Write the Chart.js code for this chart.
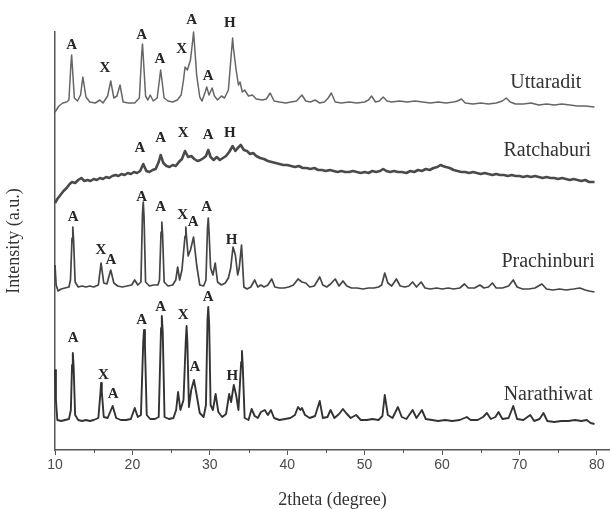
<!DOCTYPE html>
<html>
<head>
<meta charset="utf-8">
<script src="https://cdn.jsdelivr.net/npm/chart.js@4.4.1/dist/chart.umd.min.js"></script>
<style>
  html, body { margin: 0; padding: 0; background: #ffffff; }
  canvas { display: block; }
</style>
</head>
<body>
<canvas id="xrd" width="610" height="509"></canvas>
<script>
// XRD patterns of four clay samples, stacked vertically (intensity in a.u., offset per sample)
const sampleNames = ['Uttaradit', 'Ratchaburi', 'Prachinburi', 'Narathiwat'];

// [2theta (degree), intensity]
const uttaradit = [
  [10.0,338],[10.5,344],[11.0,347],[11.5,348],[11.8,350],[12.05,385],[12.15,395],[12.25,383],[12.5,352],[12.9,349],
  [13.3,355],[13.6,373],[14.0,353],[14.5,348],[15.2,347],[15.8,350],[16.2,347],[16.8,354],
  [17.2,369],[17.6,352],[18.0,354],[18.4,365],[18.8,348],[19.5,347],[20.3,347],[20.9,352],
  [21.2,396],[21.3,406],[21.4,394],[21.7,354],[22.0,350],[22.3,355],[22.7,349],[23.2,352],[23.65,380],[24.1,352],
  [24.6,349],[25.2,348],[25.8,350],[26.3,355],[26.6,370],[26.8,383],[27.1,380],[27.5,390],
  [27.8,410],[27.9,418],[28.0,408],[28.3,375],[28.7,353],[29.0,349],[29.4,358],[29.6,363],[29.9,355],[30.3,362],
  [30.6,354],[31.0,350],[31.5,354],[31.9,352],[32.4,360],[32.85,403],[32.95,412],[33.05,402],[33.4,380],[33.7,365],
  [33.9,368],[34.2,358],[34.5,360],[35.0,354],[35.5,355],[36.0,351],[36.8,350],[37.3,351],
  [37.8,357],[38.3,349],[39.0,348],[39.8,347],[40.5,348],[41.2,349],[41.9,355],[42.4,349],
  [43.0,348],[43.6,350],[44.2,347],[44.8,348],[45.3,352],[45.7,357],[46.2,348],[47.0,347],
  [48.0,348],[49.0,347],[50.0,348],[50.5,350],[50.9,354],[51.4,348],[51.9,349],[52.4,353],
  [52.9,349],[53.5,348],[54.5,349],[55.5,348],[56.5,349],[57.5,348],[58.5,347],[59.5,348],
  [60.5,347],[61.5,348],[62.0,349],[62.5,351],[63.0,347],[64.0,346],[65.0,347],[66.0,346],
  [67.0,347],[67.8,349],[68.3,352],[68.8,348],[69.5,346],[70.5,346],[71.5,347],[72.5,345],
  [73.5,346],[74.5,345],[75.5,346],[76.5,345],[77.5,344],[78.5,344],[79.7,343]
];

const ratchaburi = [
  [10.0,247],[10.3,251],[10.7,255],[11.1,259],[11.5,262],[11.9,266],[12.2,268],[12.6,267],
  [13.0,270],[13.4,272],[13.8,269],[14.2,270],[14.6,269],[15.0,271],[15.4,270],[15.8,272],
  [16.2,271],[16.6,273],[17.0,272],[17.4,274],[17.8,275],[18.2,274],[18.6,276],[19.0,275],
  [19.4,277],[19.8,276],[20.2,278],[20.6,277],[21.0,279],[21.4,286],[21.8,279],[22.2,278],
  [22.6,280],[23.0,281],[23.4,288],[23.65,295],[24.0,287],[24.4,284],[24.8,283],[25.2,285],
  [25.6,284],[26.0,288],[26.4,291],[26.8,299],[27.2,293],[27.6,294],[28.0,291],[28.4,289],
  [28.8,290],[29.2,292],[29.5,294],[29.8,300],[30.1,293],[30.5,290],[30.9,293],[31.3,290],
  [31.7,292],[32.1,294],[32.5,298],[32.95,304],[33.3,299],[33.6,302],[34.0,305],[34.4,300],
  [34.8,299],[35.2,296],[35.6,297],[36.0,294],[36.5,292],[37.0,291],[37.5,289],[38.0,288],
  [38.5,287],[39.0,286],[39.5,285],[40.0,285],[40.5,284],[41.0,283],[41.5,284],[42.0,282],
  [42.5,282],[43.0,281],[43.5,282],[44.0,280],[44.5,280],[45.0,279],[45.5,280],[46.0,279],
  [46.5,278],[47.0,279],[47.5,278],[48.0,278],[48.5,279],[49.0,278],[49.5,277],[50.0,278],
  [50.5,277],[51.0,279],[51.5,278],[52.0,279],[52.4,281],[52.8,279],[53.3,278],[53.8,279],
  [54.3,278],[54.8,278],[55.4,277],[55.9,279],[56.4,278],[56.9,280],[57.4,279],[57.9,281],
  [58.4,280],[58.9,282],[59.4,283],[59.8,285],[60.1,284],[60.5,283],[61.0,282],[61.5,280],
  [62.0,279],[62.5,278],[63.0,278],[63.5,277],[64.0,278],[64.5,277],[65.0,276],[65.5,277],
  [66.0,276],[66.5,275],[67.0,276],[67.5,275],[68.0,275],[68.5,274],[69.0,275],[69.5,274],
  [70.0,274],[70.5,273],[71.0,274],[71.5,273],[72.0,274],[72.5,273],[73.0,272],[73.5,273],
  [74.0,272],[74.5,272],[75.0,271],[75.5,272],[76.0,271],[76.5,270],[77.0,271],[77.5,270],
  [78.0,269],[78.5,270],[79.0,268],[79.7,268]
];

const prachinburi = [
  [10.0,185],[10.15,165],[10.4,159],[10.8,161],[11.3,162],[11.8,163],[12.0,170],[12.2,212],[12.3,223],[12.4,210],
  [12.6,168],[13.0,163],[13.5,164],[14.0,163],[14.5,164],[15.0,163],[15.6,165],[15.95,187],
  [16.3,167],[16.7,166],[17.2,180],[17.6,167],[18.1,164],[18.7,163],[19.3,164],[19.9,165],
  [20.3,170],[20.7,165],[21.1,168],[21.3,236],[21.4,248],[21.5,234],[21.7,168],[22.2,164],[22.7,165],[23.3,165],
  [23.5,170],[23.7,218],[23.8,228],[23.9,215],[24.1,168],[24.6,164],[25.2,165],[25.6,170],[25.85,183],[26.1,170],
  [26.4,180],[26.8,214],[26.9,223],[27.0,212],[27.2,194],[27.5,200],[27.9,213],[28.3,185],[28.7,165],[29.2,164],
  [29.5,170],[29.7,222],[29.8,232],[29.9,218],[30.1,182],[30.4,175],[30.7,187],[31.0,168],[31.5,165],[32.0,167],
  [32.4,172],[32.7,182],[33.0,203],[33.3,195],[33.6,175],[33.8,182],[34.1,205],[34.4,163],
  [34.8,161],[35.3,163],[35.8,170],[36.2,163],[36.6,165],[37.0,163],[37.5,165],[38.0,171],
  [38.4,163],[39.0,162],[39.6,162],[40.2,163],[40.8,165],[41.4,171],[41.9,168],[42.4,167],
  [42.9,163],[43.5,164],[44.2,173],[44.6,165],[45.1,163],[45.6,166],[46.2,171],[46.7,164],
  [47.2,169],[47.7,164],[48.3,162],[49.0,162],[49.8,161],[50.5,162],[51.2,162],[51.8,163],
  [52.2,165],[52.6,177],[53.0,167],[53.5,164],[54.1,171],[54.6,164],[55.2,163],[55.7,164],
  [56.2,168],[56.7,163],[57.3,168],[57.8,162],[58.5,161],[59.3,162],[60.0,161],[60.8,162],
  [61.5,161],[62.3,162],[62.9,166],[63.4,162],[64.2,162],[64.9,165],[65.4,162],[66.0,163],
  [66.5,167],[67.0,162],[67.8,162],[68.6,164],[69.2,170],[69.7,163],[70.4,161],[71.2,161],
  [72.0,162],[72.9,166],[73.5,161],[74.3,160],[75.2,161],[76.0,160],[77.0,161],[77.8,162],
  [78.5,160],[79.0,159],[79.7,158]
];

const narathiwat = [
  [10.0,80],[10.12,50],[10.3,30],[10.8,29],[11.3,30],[11.8,31],[12.05,40],[12.2,85],[12.3,97],[12.4,85],
  [12.6,35],[13.0,30],[13.5,29],[14.0,30],[14.5,29],[15.0,30],[15.6,32],[15.88,58],[15.95,67],[16.05,58],
  [16.3,33],[16.8,32],[17.45,44],[17.9,32],[18.5,30],[19.2,30],[19.8,31],[20.3,42],
  [20.7,33],[21.1,35],[21.4,108],[21.5,120],[21.62,105],[21.85,35],[22.3,31],[22.9,31],[23.4,33],
  [23.7,122],[23.8,134],[23.92,118],
  [24.15,33],[24.7,31],[25.3,32],[25.65,40],[25.9,58],[26.2,40],[26.6,50],[26.9,110],[27.0,124],[27.1,108],
  [27.3,43],[27.6,60],[27.95,70],[28.3,55],[28.7,37],[29.2,33],[29.5,45],[29.7,130],[29.8,143],[29.92,125],
  [30.1,45],[30.4,40],[30.75,56],[31.1,38],[31.6,33],[32.1,36],[32.5,56],[32.75,48],
  [33.1,65],[33.4,55],[33.7,40],[34.05,88],[34.15,99],[34.25,85],[34.5,32],[35.0,30],[35.4,41],[35.8,34],
  [36.2,32],[36.6,38],[37.1,40],[37.5,35],[37.9,40],[38.3,32],[39.0,30],[39.7,31],
  [40.4,32],[41.0,35],[41.4,43],[41.7,40],[41.9,42],[42.3,35],[42.9,32],[43.6,34],
  [44.2,49],[44.6,32],[45.2,33],[45.6,40],[46.1,32],[46.7,36],[47.2,41],[47.6,37],
  [48.2,32],[48.9,35],[49.5,30],[50.3,30],[51.0,31],[51.8,30],[52.3,34],[52.6,55],
  [53.0,35],[53.6,32],[54.3,43],[54.8,33],[55.4,31],[56.2,40],[56.7,32],[57.4,40],
  [57.9,31],[58.7,30],[59.5,29],[60.4,30],[61.3,29],[62.3,30],[63.2,33],[63.7,30],
  [64.6,30],[65.3,33],[65.8,37],[66.3,31],[66.9,33],[67.3,38],[67.8,31],[68.6,32],
  [69.2,44],[69.7,31],[70.5,30],[71.4,35],[71.9,29],[72.6,31],[73.1,37],[73.6,29],
  [74.5,28],[75.4,29],[76.3,29],[77.2,30],[78.0,29],[78.7,30],[79.2,27],[79.7,26]
];

// Phase markers: A = kaolinite-type, X, H  -> [letter, 2theta, intensity]
const uttaraditPeaks = [
  ['A',12.16,405],['X',16.46,382],['A',21.2,415],['A',23.56,391],
  ['X',26.36,401],['A',27.65,430],['A',29.8,374],['H',32.6,427]
];
const ratchaburiPeaks = [
  ['A',20.98,302],['A',23.65,312],['X',26.57,317],['A',29.8,315],['H',32.6,317]
];
const prachinburiPeaks = [
  ['A',12.36,233],['X',15.94,200],['A',17.23,190],['A',21.2,253],['A',23.65,243],
  ['X',26.49,235],['A',27.86,228],['A',29.6,243],['H',32.8,210]
];
const narathiwatPeaks = [
  ['A',12.36,112],['X',16.24,75],['A',17.53,56],['A',21.2,130],['A',23.65,143],
  ['X',26.57,135],['A',28.08,83],['A',29.8,153],['H',32.9,74]
];

// Where each sample name sits, in data coordinates
const nameAnchors = [[73.4,367],[73.6,299],[73.7,188],[73.7,55]];

const xTickValues = [10, 20, 30, 40, 50, 60, 70, 80];
const xMinorTicks = [15, 25, 35, 45, 55, 65, 75];

const seriesData = [uttaradit, ratchaburi, prachinburi, narathiwat];
const seriesPeaks = [uttaraditPeaks, ratchaburiPeaks, prachinburiPeaks, narathiwatPeaks];
const lineColors = ['#666666', '#4a4a4a', '#454545', '#333333'];
const lineWidths = [1.5, 2.6, 1.7, 1.9];

const datasets = sampleNames.map((name, i) => ({
  label: name,
  data: seriesData[i].map(p => ({ x: p[0], y: p[1] })),
  borderColor: lineColors[i],
  borderWidth: lineWidths[i],
  borderJoinStyle: 'round',
  pointRadius: 0,
  tension: 0,
  fill: false,
  clip: false
}));

// Draws phase letters, sample names and minor x ticks
const annotations = {
  id: 'annotations',
  afterDatasetsDraw(chart) {
    const { ctx, scales: { x, y } } = chart;
    ctx.save();
    ctx.textAlign = 'center';
    ctx.textBaseline = 'middle';
    ctx.fillStyle = '#262626';
    ctx.font = 'bold 15px "Liberation Serif", "Times New Roman", serif';
    seriesPeaks.forEach(list => {
      list.forEach(([letter, tx, ty]) => {
        ctx.fillText(letter, x.getPixelForValue(tx), y.getPixelForValue(ty));
      });
    });
    ctx.font = '20px "Liberation Serif", "Times New Roman", serif';
    ctx.fillStyle = '#333333';
    sampleNames.forEach((name, i) => {
      const [nx, ny] = nameAnchors[i];
      ctx.fillText(name, x.getPixelForValue(nx), y.getPixelForValue(ny));
    });
    ctx.strokeStyle = '#555555';
    ctx.lineWidth = 1;
    const base = y.getPixelForValue(y.min);
    xMinorTicks.forEach(v => {
      const px = Math.round(x.getPixelForValue(v)) + 0.5;
      ctx.beginPath();
      ctx.moveTo(px, base);
      ctx.lineTo(px, base + 3);
      ctx.stroke();
    });
    ctx.restore();
  }
};

new Chart(document.getElementById('xrd'), {
  type: 'line',
  data: { datasets },
  options: {
    responsive: false,
    animation: false,
    devicePixelRatio: 1,
    layout: { padding: { top: 32, right: 0, left: 0, bottom: 0 } },
    plugins: { legend: { display: false }, tooltip: { enabled: false } },
    scales: {
      x: {
        type: 'linear',
        min: 10,
        max: 81.7,
        afterFit(scale) { scale.height = 59; },
        afterBuildTicks(scale) { scale.ticks = xTickValues.map(v => ({ value: v })); },
        ticks: {
          includeBounds: false,
          padding: 2,
          color: '#4a4a4a',
          font: { family: '"Liberation Sans", Arial, sans-serif', size: 14 }
        },
        grid: { display: true, drawOnChartArea: false, drawTicks: true, tickLength: 5, color: '#555555' },
        border: { display: true, color: '#555555', width: 1.5 },
        title: {
          display: true,
          text: '2theta (degree)',
          color: '#333333',
          padding: { top: 0, bottom: 0 },
          font: { family: '"Liberation Serif", "Times New Roman", serif', size: 18, lineHeight: 1 }
        }
      },
      y: {
        type: 'linear',
        min: 0,
        max: 418,
        afterFit(scale) { scale.width = 55; },
        ticks: { display: false },
        grid: { display: false, drawTicks: false },
        border: { display: true, color: '#555555', width: 1.5 },
        title: {
          display: true,
          text: 'Intensity (a.u.)',
          color: '#333333',
          padding: { top: 5, bottom: 0 },
          font: { family: '"Liberation Serif", "Times New Roman", serif', size: 18, lineHeight: 1 }
        }
      }
    }
  },
  plugins: [annotations]
});
</script>
</body>
</html>
